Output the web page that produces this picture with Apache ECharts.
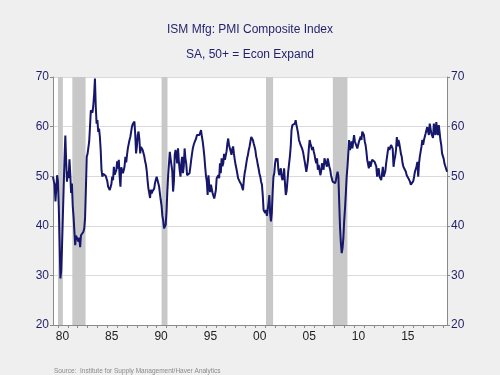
<!DOCTYPE html>
<html><head><meta charset="utf-8">
<script src="https://cdn.jsdelivr.net/npm/echarts@6.0.0/dist/echarts.min.js"></script>
<style>html,body{margin:0;padding:0;background:#efefef}#c{width:500px;height:375px}</style>
</head><body><div id="c"></div>
<script>
const titleText = 'ISM Mfg: PMI Composite Index';
const subtitleText = 'SA, 50+ = Econ Expand';
const sourceText = 'Source:  Institute for Supply Management/Haver Analytics';

// Monthly PMI, starting July 1979
const startYear = 1979, startMonth = 7;
const pmi = [
  49.9, 49.0, 48.3, 44.9, 47.5, 50.2,
  49.0, 44.0, 37.0, 29.4, 31.0, 36.0, 42.0, 48.0, 53.5, 58.2, 53.0, 48.9,
  51.0, 49.6, 53.4, 50.5, 46.6, 48.5, 44.0, 41.8, 38.9, 36.1, 38.0, 38.3,
  38.3, 36.8, 37.6, 35.7, 38.1, 37.9, 38.3, 38.8, 39.5, 41.6, 47.5, 53.9,
  54.5, 54.2, 57.0, 60.0, 63.3, 63.0, 62.8, 64.3, 66.5, 69.7, 64.0, 60.6,
  61.3, 58.9, 59.6, 57.9, 55.2, 51.2, 49.9, 50.5, 50.3, 50.4, 50.1, 49.9,
  49.0, 47.9, 47.5, 47.2, 47.6, 48.4, 49.9, 49.2, 51.9, 50.3, 50.6, 51.2,
  53.0, 51.5, 53.3, 50.0, 47.9, 51.8, 51.6, 50.6, 51.2, 52.0, 53.9, 52.8,
  54.3, 55.6, 55.3, 57.3, 57.9, 58.3, 60.0, 60.5, 60.7, 61.0, 58.3, 54.6,
  56.0, 58.3, 59.0, 57.5, 54.6, 55.9, 55.6, 55.3, 54.9, 54.0, 53.0, 52.3,
  51.0, 49.1, 47.5, 46.6, 45.6, 47.3, 46.5, 47.0, 46.8, 47.5, 48.6, 49.3,
  49.9, 50.0, 49.6, 47.9, 46.5, 45.2, 44.0, 42.0, 41.0, 39.5, 39.2, 40.2,
  42.9, 47.0, 50.2, 52.5, 54.9, 53.5, 53.3, 51.0, 46.9, 49.0, 54.3, 55.3,
  54.3, 52.6, 55.6, 53.0, 51.2, 49.9, 52.6, 53.9, 50.6, 52.0, 55.6, 53.6,
  52.5, 50.2, 50.0, 49.9, 50.6, 51.9, 53.3, 54.5, 55.6, 56.3, 56.8, 57.0,
  57.6, 58.3, 58.6, 58.3, 58.3, 58.8, 59.3, 58.0, 57.0, 55.6, 54.0, 51.9,
  50.0, 48.9, 46.2, 50.2, 48.0, 46.8, 48.3, 47.9, 46.6, 46.2, 45.5, 46.3,
  47.2, 49.6, 49.9, 50.2, 49.6, 52.6, 50.6, 53.6, 52.0, 52.6, 54.5, 53.3,
  53.0, 55.0, 56.6, 57.6, 56.3, 56.3, 55.0, 54.3, 55.5, 56.0, 54.5, 53.3,
  52.3, 51.5, 50.6, 49.6, 49.2, 48.9, 48.6, 48.3, 47.9, 47.2, 49.2, 50.6,
  51.5, 52.6, 53.6, 54.3, 55.3, 56.0, 57.0, 57.9, 58.0, 57.3, 56.6, 56.0,
  55.3, 54.0, 53.3, 52.3, 51.5, 50.5, 49.9, 48.9, 48.3, 46.2, 43.2, 42.9,
  42.6, 43.2, 42.0, 41.9, 44.5, 46.2, 42.5, 40.9, 42.6, 46.6, 49.9, 50.6,
  52.6, 53.6, 53.0, 53.6, 51.3, 50.2, 50.8, 51.6, 49.9, 49.2, 50.0, 51.6,
  48.6, 46.2, 47.0, 49.0, 51.0, 52.5, 54.0, 56.0, 59.3, 60.3, 60.0, 60.4,
  60.6, 61.3, 60.3, 59.5, 58.6, 57.3, 57.0, 56.3, 56.6, 55.5, 54.9, 53.9,
  53.0, 52.6, 50.9, 52.0, 53.3, 55.5, 57.3, 56.6, 56.0, 55.3, 55.9, 55.0,
  54.3, 53.3, 52.6, 53.6, 51.3, 52.3, 51.9, 50.2, 51.0, 52.6, 51.9, 51.3,
  53.6, 53.3, 53.9, 51.9, 53.6, 53.3, 51.9, 51.3, 50.2, 49.9, 48.9, 49.2,
  48.9, 48.6, 49.2, 50.2, 50.9, 49.9, 44.5, 39.5, 36.5, 34.5, 35.5, 37.5,
  41.0, 43.5, 46.5, 49.9, 51.9, 54.6, 57.3, 55.3, 55.9, 57.0, 55.6, 57.0,
  58.3, 57.0, 57.3, 56.6, 55.6, 55.9, 57.0, 56.6, 58.0, 57.3, 59.0, 58.6,
  58.3, 57.0, 56.3, 55.0, 53.3, 53.6, 51.6, 53.0, 51.9, 52.6, 53.3, 53.3,
  53.3, 52.9, 53.3, 52.0, 49.9, 51.0, 51.6, 49.9, 49.5, 49.2, 50.5, 51.9,
  49.9, 50.2, 51.0, 52.6, 53.8, 55.0, 55.9, 55.3, 55.3, 56.3, 56.0, 55.5,
  51.9, 53.2, 54.0, 55.3, 57.9, 56.0, 57.3, 56.6, 55.6, 54.5, 53.9, 52.6,
  51.9, 51.6, 51.6, 50.9, 50.2, 49.9, 49.6, 49.3, 48.9, 48.3, 48.2, 47.9,
  49.0, 49.9, 50.9, 51.2, 52.0, 52.9, 49.9, 52.6, 54.0, 55.0, 56.0, 57.3,
  56.3, 57.3, 57.0, 58.6, 59.3, 59.9, 59.0, 58.3, 60.6, 60.3, 58.6, 58.9,
  57.7, 60.6, 60.3, 58.3, 60.9, 59.2, 58.3, 60.3, 58.9, 57.3, 56.3, 54.6,
  55.0, 53.5, 52.5, 52.0, 51.6, 50.9
];

// Recession periods (decimal years)
const recessionStart = [1980.0, 1981.46, 1990.5, 2001.08, 2007.85];
const recessionEnd   = [1980.5, 1982.8, 1991.1, 2001.8, 2009.33];

const yTicks = [20, 30, 40, 50, 60, 70];
const xLabelYears = [1980, 1985, 1990, 1995, 2000, 2005, 2010, 2015];
const xTickYears = [];
for (let y = 1980; y <= 2019; y++) xTickYears.push(y);

const seriesData = pmi.map((v, i) => [startYear + (startMonth - 1 + i) / 12, v]);
const xMin = seriesData[0][0];
const xMax = seriesData[seriesData.length - 1][0];

const navy = '#1f1f6b';
const font = 'Liberation Sans, Arial, sans-serif';
const axisGray = '#8a8a8a';

const yAxisBase = {
  type: 'value', min: yTicks[0], max: yTicks[yTicks.length - 1], interval: 10,
  axisLine: { show: true, lineStyle: { color: axisGray, width: 1 } },
  axisTick: { show: true, length: 3, lineStyle: { color: axisGray } },
  axisLabel: { color: navy, fontSize: 12, fontFamily: font, margin: 4 }
};

const chart = echarts.init(document.getElementById('c'), null, { renderer: 'canvas' });
chart.setOption({
  animation: false,
  backgroundColor: '#efefef',
  title: [
    { text: titleText, left: 'center', top: 24, padding: 0,
      textStyle: { fontSize: 12, fontWeight: 'normal', color: navy, fontFamily: font } },
    { text: subtitleText, left: 'center', top: 49, padding: 0,
      textStyle: { fontSize: 12, fontWeight: 'normal', color: navy, fontFamily: font } },
    { text: sourceText, left: 54, top: 368, padding: 0,
      textStyle: { fontSize: 6.5, fontWeight: 'normal', color: '#8a8a8a', fontFamily: font } }
  ],
  grid: { left: 53, right: 53, top: 77, bottom: 50, show: true, backgroundColor: '#ffffff', borderWidth: 0 },
  xAxis: {
    type: 'value', min: xMin, max: xMax,
    axisLine: { show: true, onZero: false, lineStyle: { color: axisGray } },
    axisTick: { show: true, length: 3, customValues: xTickYears, lineStyle: { color: axisGray } },
    axisLabel: {
      customValues: xLabelYears.map(y => y + 0.45),
      formatter: v => String(Math.round(v - 0.45) % 100).padStart(2, '0'),
      color: '#222', fontSize: 12, fontFamily: font, margin: 6
    },
    splitLine: { show: false }
  },
  yAxis: [
    Object.assign({}, yAxisBase, { position: 'left',
      splitLine: { show: true, lineStyle: { color: '#dadada', width: 1 } } }),
    Object.assign({}, yAxisBase, { position: 'right', splitLine: { show: false } })
  ],
  series: [
    {
      type: 'line', data: [], z: 1, silent: true,
      markArea: {
        silent: true,
        itemStyle: { color: '#c8c8c8' },
        data: recessionStart.map((s, i) => [{ xAxis: s }, { xAxis: recessionEnd[i] }])
      }
    },
    {
      type: 'line', data: seriesData, z: 3, showSymbol: false, symbol: 'none',
      lineStyle: { color: '#16166a', width: 2 },
      itemStyle: { color: '#16166a' }
    }
  ]
});
</script>
</body></html>
